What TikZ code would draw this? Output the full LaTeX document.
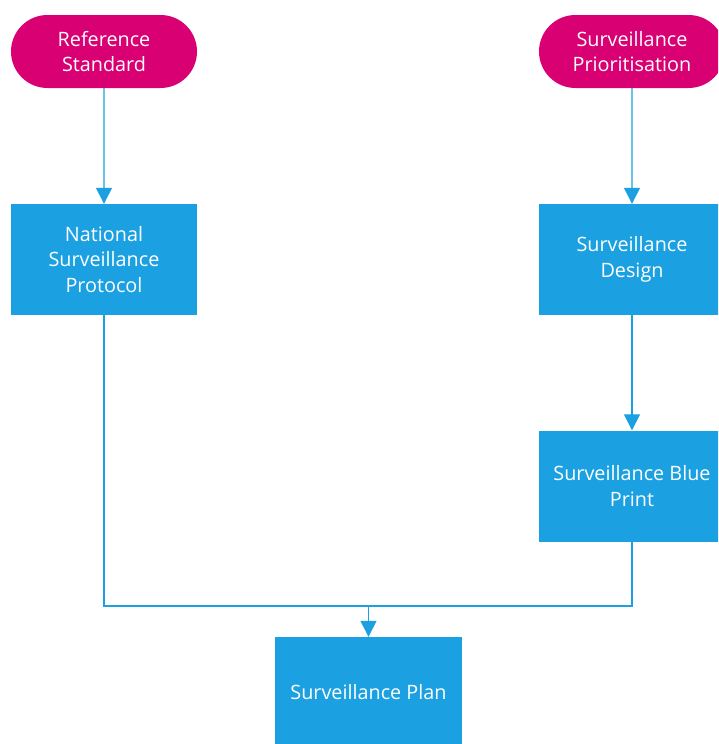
\documentclass[tikz,border=0pt]{standalone}
\usepackage{fontspec}
\setmainfont{Open Sans}
\usetikzlibrary{arrows.meta,shapes.misc}
\definecolor{flowblue}{HTML}{1BA1E2}
\definecolor{flowmagenta}{HTML}{D80073}
\tikzset{
  terminal/.style={rounded rectangle, fill=flowmagenta, draw=none, text=white,
    minimum width=186pt, minimum height=73pt, align=center, inner sep=0pt,
    font=\fontsize{19.8}{25.5}\selectfont},
  process/.style={rectangle, fill=flowblue, draw=none, text=white,
    minimum width=186pt, minimum height=111pt, align=center, inner sep=0pt,
    font=\fontsize{19.8}{25.5}\selectfont},
  flow/.style={draw=flowblue, line width=1.3pt},
  flowarrow/.style={flow, -{Triangle[length=16pt,width=16pt]}},
}
\begin{document}
\begin{tikzpicture}[x=1pt,y=-1pt]
  \useasboundingbox (0,0) rectangle (718,744);
  \clip (0,0) rectangle (718,744);
  % start/terminal shapes
  \node[terminal] (ref) at (104,51.5) {Reference\\Standard};
  \node[terminal] (prio) at (632,51.5) {Surveillance\\Prioritisation};
  % process steps
  \node[process] (nsp) at (104,259.5) {National\\Surveillance\\Protocol};
  \node[process] (design) at (632,259.5) {Surveillance\\Design};
  \node[process] (blue) at (632,486) {Surveillance Blue\\Print};
  \node[process, minimum width=187pt] (plan) at (368.5,692.5) {Surveillance Plan};
  % connectors
  \coordinate (join) at (368.5,606);
  \draw[flowarrow] (ref) -- (nsp);
  \draw[flowarrow] (prio) -- (design);
  \draw[flowarrow] (design) -- (blue);
  \draw[flow] (nsp.south) |- (join);
  \draw[flow] (blue.south) |- (join);
  \draw[flowarrow] (join) -- (plan);
\end{tikzpicture}
\end{document}
